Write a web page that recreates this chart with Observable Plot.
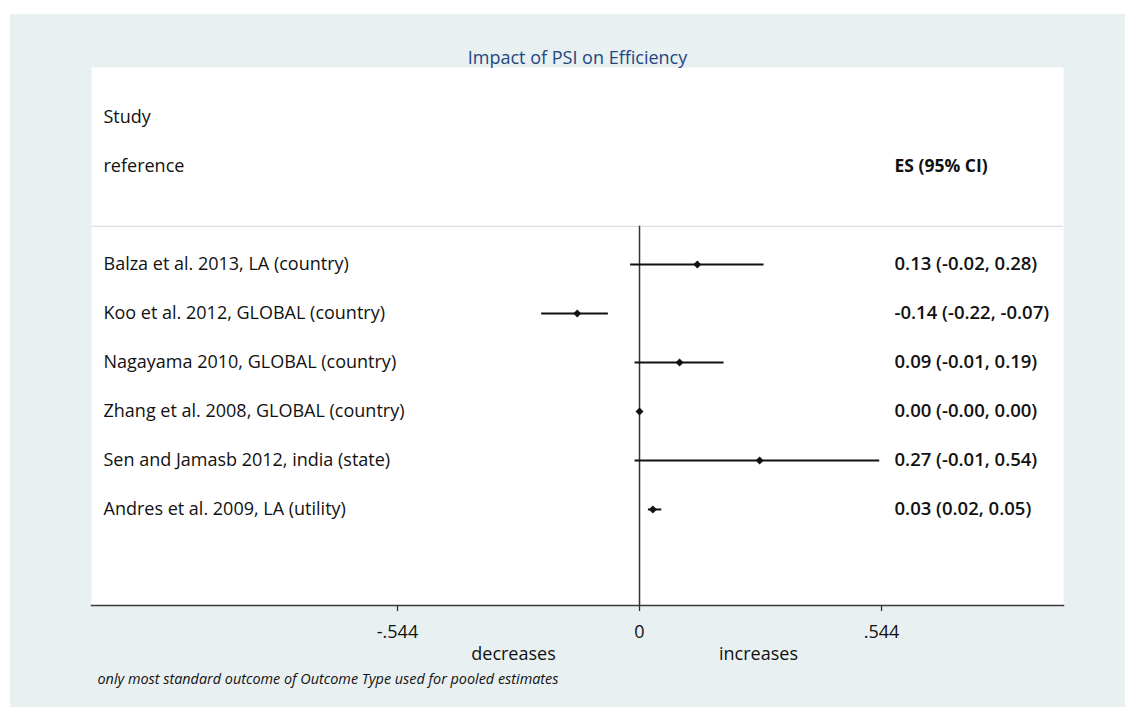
<!DOCTYPE html>
<html>
<head>
<meta charset="utf-8">
<script src="https://cdn.jsdelivr.net/npm/d3@7"></script>
<script src="https://cdn.jsdelivr.net/npm/@observablehq/plot@0.6"></script>
<style>
  html, body { margin: 0; padding: 0; background: #ffffff; }
  #wrap { position: absolute; left: 10px; top: 14px; width: 1115px; height: 693px; background: #e8f0f2; }
  #wrap svg { display: block; }
</style>
</head>
<body>
<div id="wrap"></div>
<script>
const title = "Impact of PSI on Efficiency";
const studies = [
  "Balza et al. 2013, LA (country)",
  "Koo et al. 2012, GLOBAL (country)",
  "Nagayama 2010, GLOBAL (country)",
  "Zhang et al. 2008, GLOBAL (country)",
  "Sen and Jamasb 2012, india (state)",
  "Andres et al. 2009, LA (utility)"
];
const es = [0.13, -0.14, 0.09, 0.00, 0.27, 0.03];
const ciLow = [-0.02, -0.22, -0.01, -0.00, -0.01, 0.02];
const ciHigh = [0.28, -0.07, 0.19, 0.00, 0.54, 0.05];
const esLabels = [
  "0.13 (-0.02, 0.28)",
  "-0.14 (-0.22, -0.07)",
  "0.09 (-0.01, 0.19)",
  "0.00 (-0.00, 0.00)",
  "0.27 (-0.01, 0.54)",
  "0.03 (0.02, 0.05)"
];
const headerLines = ["Study", "reference"];
const esHeader = "ES (95% CI)";
const xTicks = [-0.544, 0, 0.544];
const xTickLabels = ["-.544", "0", ".544"];
const directionLabels = ["decreases", "increases"];
const footnote = "only most standard outcome of Outcome Type used for pooled estimates";

const rows = studies.map((s, i) => ({study: s, row: i, es: es[i], lo: ciLow[i], hi: ciHigh[i], label: esLabels[i]}));
const headers = headerLines.map((t, i) => ({text: t, row: i - headerLines.length - 1}));
const sepRow = -0.78;
const yDomain = [-4.02, 6.96];
const font = "'Open Sans', 'Noto Sans', sans-serif";
const fs = 18;

const chart = Plot.plot({
  width: 1115,
  height: 693,
  marginLeft: 81,
  marginRight: 62,
  marginTop: 53,
  marginBottom: 102,
  style: {background: "#e8f0f2", fontFamily: font, color: "#111"},
  x: {domain: [-1.2319, 0.9531]},
  y: {domain: yDomain, reverse: true, axis: null},
  marks: [
    Plot.frame({fill: "white", stroke: null}),
    Plot.ruleY([sepRow], {stroke: "#d4d4d4", strokeWidth: 1.2}),
    Plot.ruleX([0], {y1: sepRow, y2: yDomain[1], stroke: "#333", strokeWidth: 1.5}),
    Plot.frame({anchor: "bottom", stroke: "#3a3a3a", strokeWidth: 1.4}),
    Plot.axisX({
      ticks: xTicks,
      tickFormat: d => xTickLabels[xTicks.indexOf(d)],
      tickSize: 6,
      tickPadding: 14,
      fontSize: fs,
      stroke: "#333",
      strokeWidth: 1.3,
      fill: "#111",
      label: null
    }),
    Plot.ruleY(rows, {y: "row", x1: "lo", x2: "hi", stroke: "#111", strokeWidth: 2}),
    Plot.dot(rows, {x: "es", y: "row", symbol: "diamond2", r: 3.6, fill: "#111", stroke: null}),
    Plot.text(rows, {y: "row", text: "study", frameAnchor: "left", textAnchor: "start", dx: 12, fontSize: fs, fill: "#111"}),
    Plot.text(rows, {y: "row", text: "label", frameAnchor: "right", textAnchor: "start", dx: -169, fontSize: 18.5, fontWeight: 600, fill: "#111"}),
    Plot.text(headers, {y: "row", text: "text", frameAnchor: "left", textAnchor: "start", dx: 12, fontSize: fs, fill: "#111"}),
    Plot.text([esHeader], {y: headers[1].row, text: d => d, frameAnchor: "right", textAnchor: "start", dx: -169, fontSize: 17.5, fontWeight: "bold", fill: "#111"}),
    Plot.text([title], {text: d => d, frameAnchor: "top", dy: -9, lineAnchor: "middle", fontSize: fs, fill: "#24467f"}),
    Plot.text([directionLabels[0]], {text: d => d, frameAnchor: "bottom", dx: -64, dy: 54, fontSize: fs, fill: "#111"}),
    Plot.text([directionLabels[1]], {text: d => d, frameAnchor: "bottom", dx: 181, dy: 54, fontSize: fs, fill: "#111"}),
    Plot.text([footnote], {text: d => d, frameAnchor: "bottom-left", textAnchor: "start", dx: 6, dy: 78, fontSize: 14.4, fontStyle: "italic", fill: "#111"})
  ]
});
document.getElementById("wrap").appendChild(chart);
</script>
</body>
</html>
